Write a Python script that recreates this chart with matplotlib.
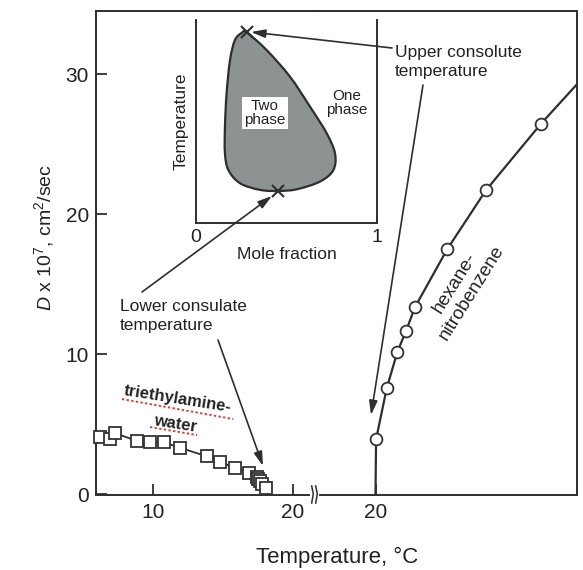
import numpy as np
import matplotlib
matplotlib.use('Agg')
import matplotlib.pyplot as plt
from matplotlib.lines import Line2D
from matplotlib.path import Path
from matplotlib.patches import PathPatch

plt.rcParams['font.family'] = ['Liberation Sans', 'DejaVu Sans']
plt.rcParams['mathtext.fontset'] = 'custom'
plt.rcParams['mathtext.rm'] = 'Liberation Sans'
plt.rcParams['mathtext.it'] = 'Liberation Sans:italic'

# triethylamine-water (left part of the broken temperature axis)
tw_temp = [6.2, 6.95, 7.3, 8.85, 9.8, 10.8, 11.95, 13.85, 14.8, 15.9, 16.9,
           17.45, 17.55, 17.65, 17.8, 18.1]
tw_D = [4.1, 3.9, 4.35, 3.8, 3.7, 3.7, 3.3, 2.7, 2.3, 1.85, 1.5,
        1.25, 1.05, 0.9, 0.75, 0.45]

# hexane-nitrobenzene (right part)
hn_temp = [20.04, 20.8, 21.56, 22.18, 22.82, 25.13, 27.89, 31.82]
hn_D = [3.9, 7.55, 10.15, 11.65, 13.35, 17.5, 21.7, 26.45]
hn_crit_T = 20.0          # curve starts at D = 0 here
hn_end = (34.6, 29.5)     # curve leaves the frame at top right

# inset: outline of the two-phase region (mole fraction, temperature)
blob_x = [0.280, 0.390, 0.519, 0.630, 0.722, 0.768, 0.759, 0.685, 0.556, 0.455,
          0.354, 0.243, 0.179, 0.160, 0.160, 0.169, 0.188, 0.215, 0.252]
blob_y = [0.939, 0.852, 0.721, 0.573, 0.442, 0.343, 0.261, 0.204, 0.166, 0.158,
          0.163, 0.196, 0.261, 0.343, 0.474, 0.639, 0.803, 0.901, 0.936]
ucst = (0.280, 0.939)
lcst = (0.455, 0.158)

W, H = 583, 570
INK = '#2e2e2e'


def fx(px):
    return px / W


def fy(py):
    return 1 - py / H


def closed_smooth_path(xs, ys):
    # catmull-rom through the outline points, as cubic bezier segments
    pts = np.column_stack([xs, ys])
    n = len(pts)
    verts = [pts[0]]
    codes = [Path.MOVETO]
    for i in range(n):
        p0, p1, p2, p3 = pts[i - 1], pts[i], pts[(i + 1) % n], pts[(i + 2) % n]
        verts += [p1 + (p2 - p0) / 6, p2 - (p3 - p1) / 6, p2]
        codes += [Path.CURVE4] * 3
    return Path(verts, codes)


fig = plt.figure(figsize=(W / 100, H / 100), dpi=100)

left, right, top, bottom, brk = 96, 577, 11, 495, 316
ax_l = fig.add_axes([fx(left), fy(bottom), (brk - left) / W, (bottom - top) / H])
ax_r = fig.add_axes([fx(brk), fy(bottom), (right - brk) / W, (bottom - top) / H])

for ax in (ax_l, ax_r):
    ax.set_ylim(-0.07, 34.5)
    for s in ax.spines.values():
        s.set_linewidth(1.4)
        s.set_color(INK)
    ax.tick_params(direction='in', length=8, width=1.3, color=INK,
                   labelsize=15, pad=6, labelcolor='#222222')

ax_l.set_xlim(5.95, 21.66)
ax_l.spines['right'].set_visible(False)
ax_l.set_xticks([10, 20])
ax_l.set_yticks([0, 10, 20, 30])
ax_l.tick_params(axis='y', pad=5)

ax_r.set_xlim(15.75, 34.39)
ax_r.spines['left'].set_visible(False)
ax_r.set_xticks([20])
ax_r.set_yticks([])

# triethylamine-water
ax_l.plot(tw_temp, tw_D, color=INK, lw=1.3, zorder=2)
ax_l.plot(tw_temp, tw_D, ls='none', marker='s', ms=8, mfc='white',
          mec='#333333', mew=1.3, zorder=3, clip_on=False)

# hexane-nitrobenzene
curve_T = [hn_crit_T] + hn_temp + [hn_end[0]]
curve_D = [0.0] + hn_D + [hn_end[1]]
ax_r.plot(curve_T, curve_D, color=INK, lw=1.6, zorder=2)
ax_r.plot(hn_temp, hn_D, ls='none', marker='o', ms=8.5, mfc='white',
          mec='#333333', mew=1.3, zorder=3)

# axis break marks
fig.add_artist(Line2D([fx(312), fx(317)], [fy(bottom), fy(bottom)],
                      color='white', lw=3, zorder=5))
for x0 in (312.5, 316.5):
    fig.add_artist(Line2D([fx(x0 - 0.8), fx(x0 + 0.8), fx(x0 - 0.8)],
                          [fy(486), fy(494), fy(503)],
                          color=INK, lw=1.1, zorder=6))

# inset phase diagram
ax_in = fig.add_axes([fx(196), fy(223), 181 / W, (223 - 20) / H])
ax_in.patch.set_alpha(0)
ax_in.set_xlim(0, 1)
ax_in.set_ylim(0, 1)
ax_in.spines['top'].set_visible(False)
for s in ('left', 'right', 'bottom'):
    ax_in.spines[s].set_linewidth(1.4)
    ax_in.spines[s].set_color(INK)
ax_in.set_xticks([0, 1])
ax_in.set_xticklabels(['0', '1'])
ax_in.set_yticks([])
ax_in.tick_params(length=0, labelsize=14, pad=4, labelcolor='#222222')
ax_in.set_xlabel('Mole fraction', fontsize=12.5, labelpad=1, color='#222222')
ax_in.set_ylabel('Temperature', fontsize=12.5, labelpad=5, color='#222222')
ax_in.add_patch(PathPatch(closed_smooth_path(blob_x, blob_y),
                          facecolor='#8d9292', edgecolor=INK, lw=1.6))
ax_in.plot(*ucst, marker='x', ms=8, mew=1.5, color=INK)
ax_in.plot(*lcst, marker='x', ms=8, mew=1.5, color=INK)
ax_in.text(0.381, 0.542, 'Two\nphase', ha='center', va='center', fontsize=11,
           linespacing=1.0, color='#222222',
           bbox=dict(facecolor='white', edgecolor='none', pad=1.5))
ax_in.text(0.833, 0.59, 'One\nphase', ha='center', va='center', fontsize=11,
           linespacing=1.0, color='#222222')

# overlay in image pixels for the annotations
ov = fig.add_axes([0, 0, 1, 1], zorder=10)
ov.set_xlim(0, W)
ov.set_ylim(H, 0)
ov.axis('off')

arrow = dict(arrowstyle='-|>,head_length=0.85,head_width=0.25', color=INK,
             lw=1.2, shrinkA=0, shrinkB=0, mutation_scale=10)
ov.text(395, 62, 'Upper consolute\ntemperature', fontsize=12.5, ha='left',
        va='center', linespacing=1.3, color='#222222')
ov.annotate('', xy=(251, 32), xytext=(392, 48), arrowprops=arrow)
ov.annotate('', xy=(371, 415), xytext=(423, 85), arrowprops=arrow)

ov.text(120, 316, 'Lower consulate\ntemperature', fontsize=12.5, ha='left',
        va='center', linespacing=1.3, color='#222222')
ov.annotate('', xy=(272, 196), xytext=(142, 292), arrowprops=arrow)
ov.annotate('', xy=(263, 466), xytext=(218, 340), arrowprops=arrow)

ov.text(178, 399, 'triethylamine-', fontsize=12, fontweight='bold',
        rotation=-9, ha='center', va='center', color='#222222')
ov.text(175, 424, 'water', fontsize=12, fontweight='bold',
        rotation=-9, ha='center', va='center', color='#222222')
ov.plot([122, 233], [399, 419], color='#e53b30', lw=1.4, ls=(0, (1.2, 1.2)))
ov.plot([150, 197], [427, 435], color='#e53b30', lw=1.4, ls=(0, (1.2, 1.2)))

ov.text(463, 288, 'hexane-\nnitrobenzene', fontsize=13.5, rotation=58,
        ha='center', va='center', linespacing=1.2, color='#222222')

# axis titles
ov.text(337, 557, 'Temperature, \u00b0C', fontsize=16, ha='center', va='center',
        color='#222222')
ov.text(44, 237, r'$D$ x 10$^7$, cm$^2$/sec', fontsize=14, rotation=90,
        ha='center', va='center', color='#222222')

fig.savefig('out.png', dpi=100)
